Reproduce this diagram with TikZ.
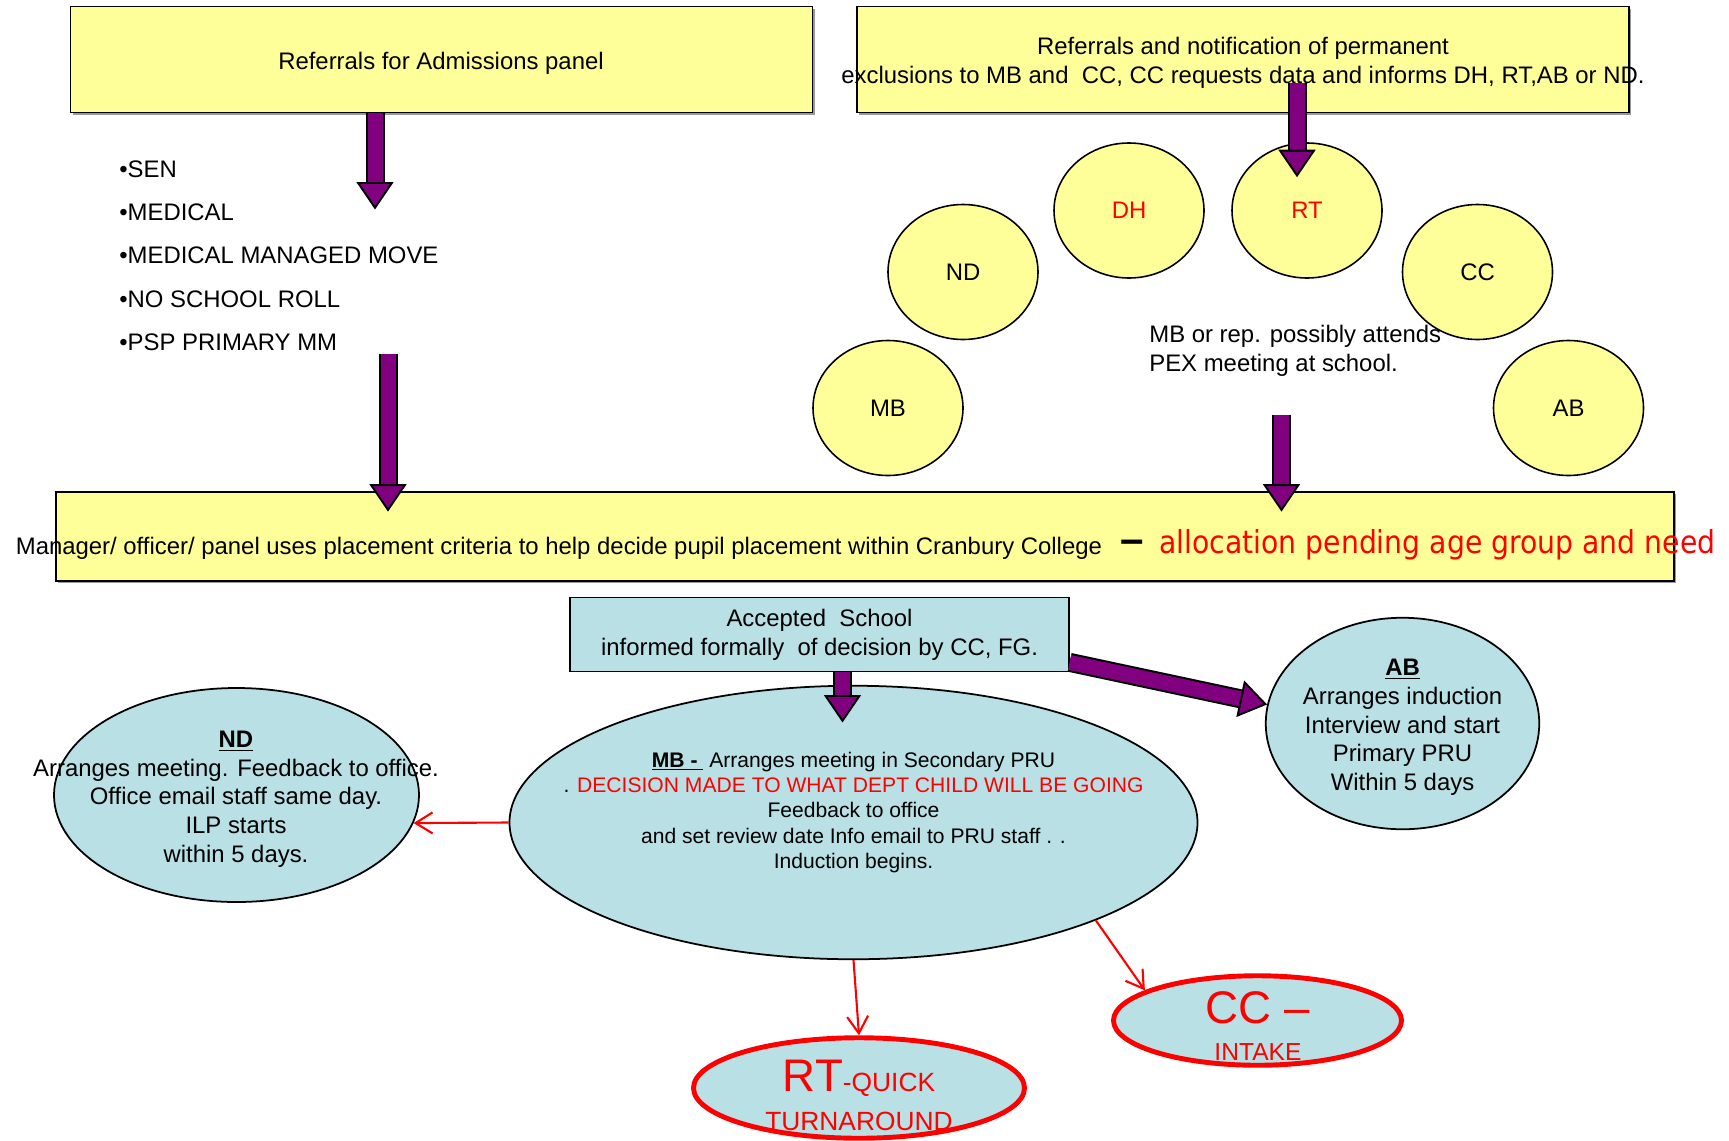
\documentclass[tikz,border=0pt]{standalone}
\usepackage{fontspec}
\setmainfont{Liberation Sans}
\newfontfamily\dejavu{DejaVu Sans}
\usepackage{graphicx}
\usetikzlibrary{shapes,arrows.meta,shadows}
\definecolor{PaleYellow}{RGB}{255,255,153}
\definecolor{PaleBlue}{RGB}{185,224,228}
\definecolor{ArrowPurple}{RGB}{128,0,128}

\begin{document}
\begin{tikzpicture}
	\tikzstyle{every node}=[font=\fontsize{13.6}{16.3}\selectfont, inner sep=0pt];
	\tikzstyle{yellowbox}=[draw, line width=1pt, fill=PaleYellow, drop shadow={shadow xshift=0.04cm, shadow yshift=-0.04cm, fill=gray!80, opacity=1}];
	\tikzstyle{bluebox}=[draw, line width=1pt, fill=PaleBlue];
	\tikzstyle{pcircle}=[draw, ellipse, line width=0.9pt, fill=PaleYellow, minimum width=3.0cm, minimum height=2.7cm];
	\tikzstyle{blueell}=[draw, ellipse, line width=1pt, fill=PaleBlue];
	\tikzstyle{redell}=[draw=red, ellipse, line width=2.8pt, fill=PaleBlue];
	\tikzstyle{bigarrow}=[draw=ArrowPurple, line width=0.30cm, -{Triangle[width=0.74cm, length=0.55cm, color=black, fill=ArrowPurple, line width=1.1pt]}, preaction={draw=black, line width=0.38cm, -, shorten >=0.42cm}];
	\tikzstyle{redarrow}=[draw=red, line width=1.2pt, -{Straight Barb[length=0.34cm, width=0.42cm]}];
	\useasboundingbox (0,0) rectangle (34.58,-22.8);
	% top boxes
	\node [yellowbox, minimum width=14.84cm, minimum height=2.12cm] (adm) at (8.83,-1.19) {};
	\node (admtxt) at (8.82,-1.26) {Referrals for Admissions panel};
	\node [yellowbox, minimum width=15.44cm, minimum height=2.12cm] (refs) at (24.86,-1.19) {};
	\node [align=center] (refstxt) at (24.86,-1.26) {Referrals and notification of permanent\\exclusions to MB and\ \ CC, CC requests data and informs DH, RT,AB or ND.};
	% referral list
	\node [anchor=west] (b1) at (2.38,-3.39) {•SEN};
	\node [anchor=west] (b2) at (2.38,-4.25) {•MEDICAL};
	\node [anchor=west] (b3) at (2.38,-5.11) {•MEDICAL MANAGED MOVE};
	\node [anchor=west] (b4) at (2.38,-5.99) {•NO SCHOOL ROLL};
	\node [anchor=west] (b5) at (2.38,-6.85) {•PSP PRIMARY MM};
	% staff circles
	\node [pcircle, text=red] (dhc) at (22.58,-4.21) {DH};
	\node [pcircle, text=red] (rtc) at (26.14,-4.21) {RT};
	\node [pcircle] (ndc) at (19.26,-5.44) {ND};
	\node [pcircle] (ccc) at (29.55,-5.44) {CC};
	\node [pcircle] (mbc) at (17.76,-8.16) {MB};
	\node [pcircle] (abc) at (31.37,-8.16) {AB};
	\node [anchor=west, align=left] (pex) at (22.98,-7.02) {MB or rep. possibly attends\\PEX meeting at school.};
	% placement
	\node [yellowbox, minimum width=32.36cm, minimum height=1.78cm] (place) at (17.30,-10.73) {};
	\node [anchor=west] (placetxt) at (0.31,-10.97) {Manager/ officer/ panel uses placement criteria to help decide pupil placement within Cranbury College};
	\node (dash) at (22.64,-10.93) {\fontsize{24}{28}\selectfont\textbf{–}};
	\node [anchor=west, text=red] (alloc) at (23.18,-10.9) {\scalebox{0.894}[1]{\dejavu\fontsize{18}{21}\selectfont allocation pending age group and need}};
	\node [bluebox, minimum width=9.97cm, minimum height=1.48cm, align=center] (acc) at (16.39,-12.69) {Accepted\ \ School\\informed formally\ \ of decision by CC, FG.};
	% outcome ellipses
	\node [blueell, minimum width=13.76cm, minimum height=5.47cm] (mbell) at (17.07,-16.45) {};
	\node [align=center, font=\fontsize{12}{14.5}\selectfont] (mbtxt) at (17.07,-16.25) {\underline{\textbf{MB -\ }}\ Arranges meeting in Secondary PRU\\. \textcolor{red}{DECISION MADE TO WHAT DEPT CHILD WILL BE GOING}\\Feedback to office\\and set review date Info email to PRU staff . .\\Induction begins.};
	\node [blueell, minimum width=7.30cm, minimum height=4.28cm] (ndell) at (4.73,-15.90) {};
	\node [align=center] (ndtxt) at (4.72,-15.98) {\underline{\textbf{ND}}\\Arranges meeting. Feedback to office.\\Office email staff same day.\\ILP starts\\within 5 days.};
	\node [blueell, minimum width=5.47cm, minimum height=4.23cm] (abell) at (28.05,-14.47) {};
	\node [align=center] (abtxt) at (28.05,-14.55) {\underline{\textbf{AB}}\\Arranges induction\\Interview and start\\Primary PRU\\Within 5 days};
	\node [redell, minimum width=6.62cm, minimum height=2.01cm] (rtell) at (17.18,-21.76) {};
	\node [text=red, anchor=base] (rtt1) at (17.18,-21.83) {\fontsize{26}{30}\selectfont RT\fontsize{15}{18}\selectfont -QUICK};
	\node [text=red, anchor=base] (rtt2) at (17.18,-22.6) {\fontsize{15}{18}\selectfont TURNAROUND};
	\node [redell, minimum width=5.76cm, minimum height=1.79cm] (ccell) at (25.15,-20.41) {};
	\node [text=red, anchor=base] (cct1) at (25.16,-20.46) {\fontsize{26}{30}\selectfont CC –};
	\node [text=red, anchor=base] (cct2) at (25.16,-21.2) {\fontsize{14}{17}\selectfont INTAKE};
	% block arrows
	\coordinate (a1tip) at (7.50,-4.19);
	\coordinate (a2top) at (7.76,-7.08);
	\coordinate (a3top) at (25.94,-1.65);
	\coordinate (a4top) at (25.63,-8.29);
	\coordinate (a5tip) at (16.85,-14.45);
	\draw [bigarrow] (adm.south -| a1tip) -- (a1tip);
	\draw [bigarrow] (a2top) -- ([yshift=-0.41cm]place.north -| a2top);
	\draw [bigarrow] (a3top) -- ([yshift=-0.7cm]rtc.north -| a3top);
	\draw [bigarrow] (a4top) -- ([yshift=-0.41cm]place.north -| a4top);
	\draw [bigarrow] (acc.south -| a5tip) -- (a5tip);
	\draw [bigarrow] ([yshift=0.2cm]acc.south east) -- (abell.172);
	% red links
	\draw [redarrow] (mbell.west) -- (ndell.-9);
	\draw [redarrow] (mbell.south) -- (rtell.north);
	\draw [redarrow] (mbell.-22) -- (ccell.165);
\end{tikzpicture}
\end{document}
